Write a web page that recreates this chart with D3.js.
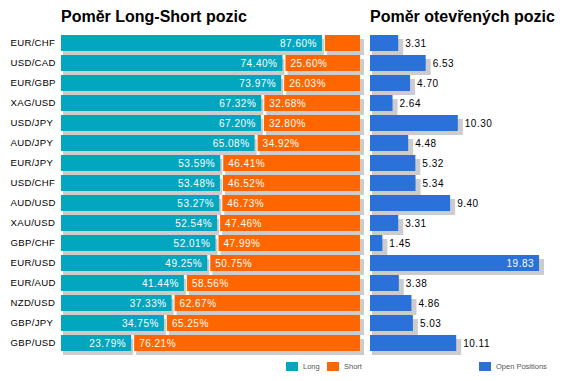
<!DOCTYPE html>
<html><head><meta charset="utf-8">
<script src="https://cdn.jsdelivr.net/npm/d3@7"></script>
<style>
body{margin:0;background:#fff;}
svg{display:block;font-family:"Liberation Sans",Arial,sans-serif;}
</style></head>
<body>
<svg id="c" width="567" height="381"></svg>
<script>
const pairs = ["EUR/CHF","USD/CAD","EUR/GBP","XAG/USD","USD/JPY","AUD/JPY","EUR/JPY","USD/CHF","AUD/USD","XAU/USD","GBP/CHF","EUR/USD","EUR/AUD","NZD/USD","GBP/JPY","GBP/USD"];
const longPct = [87.60,74.40,73.97,67.32,67.20,65.08,53.59,53.48,53.27,52.54,52.01,49.25,41.44,37.33,34.75,23.79];
const shortPct = [12.40,25.60,26.03,32.68,32.80,34.92,46.41,46.52,46.73,47.46,47.99,50.75,58.56,62.67,65.25,76.21];
const openPos = [3.31,6.53,4.70,2.64,10.30,4.48,5.32,5.34,9.40,3.31,1.45,19.83,3.38,4.86,5.03,10.11];
const titles = ["Poměr Long-Short pozic","Poměr otevřených pozic"];
const legendLabels = ["Long","Short","Open Positions"];

const colLong = "#02A7BF", colShort = "#FF6600", colOpen = "#2A71D9", colShadow = "#CCCCCC";

const svg = d3.select("#c");
const y = d3.scaleBand().domain(pairs).range([33, 353]).paddingInner(0.2).paddingOuter(0.1);
const x = d3.scaleLinear().domain([0,100]).range([61,360]);
const x2 = d3.scaleLinear().domain([0,20]).range([370,540.5]);
const rows = pairs.map((p,i)=>({p, l:longPct[i], s:shortPct[i], o:openPos[i]}));
const bh = y.bandwidth();

// titles
svg.append("text").attr("x",61).attr("y",22).attr("font-size",16).attr("font-weight","bold").attr("fill","#000").text(titles[0]);
svg.append("text").attr("x",370).attr("y",22).attr("font-size",16).attr("font-weight","bold").attr("fill","#000").text(titles[1]);

// category labels
svg.append("g").selectAll("text").data(rows).join("text")
  .attr("x",10.5).attr("y",d=>y(d.p)+bh/2).attr("dy","0.35em")
  .attr("font-size",9.6).attr("letter-spacing",0.3).attr("fill","#000").text(d=>d.p);

// shadows
const sh = svg.append("g").attr("fill",colShadow);
sh.selectAll(".sl").data(rows).join("rect")
  .attr("x",x(0)+2).attr("y",d=>y(d.p)+4).attr("width",d=>x(d.l)-x(0)-1).attr("height",bh);
sh.selectAll(".ss").data(rows).join("rect")
  .attr("x",d=>x(d.l)+4).attr("y",d=>y(d.p)+4).attr("width",d=>x(100)-x(d.l)).attr("height",bh);
sh.selectAll(".so").data(rows).join("rect")
  .attr("x",x2(0)+2).attr("y",d=>y(d.p)+4).attr("width",d=>x2(d.o)-x2(0)+3).attr("height",bh);

// bars
svg.append("g").selectAll("rect").data(rows).join("rect").attr("fill",colLong)
  .attr("x",x(0)).attr("y",d=>y(d.p)).attr("width",d=>x(d.l)-x(0)-1).attr("height",bh);
svg.append("g").selectAll("rect").data(rows).join("rect").attr("fill",colShort)
  .attr("x",d=>x(d.l)+2).attr("y",d=>y(d.p)).attr("width",d=>x(100)-x(d.l)-2).attr("height",bh);
svg.append("g").selectAll("rect").data(rows).join("rect").attr("fill",colOpen)
  .attr("x",x2(0)).attr("y",d=>y(d.p)).attr("width",d=>x2(d.o)-x2(0)).attr("height",bh);

// value labels
const vl = svg.append("g").attr("font-size",10).attr("letter-spacing",0.5);
vl.selectAll(".lt").data(rows).join("text").attr("fill","#fff").attr("text-anchor","end")
  .attr("x",d=>x(d.l)-6).attr("y",d=>y(d.p)+bh/2).attr("dy","0.35em").text(d=>d.l.toFixed(2)+"%");
vl.selectAll(".st").data(rows.filter(d=>d.s>20)).join("text").attr("fill","#fff")
  .attr("x",d=>x(d.l)+7).attr("y",d=>y(d.p)+bh/2).attr("dy","0.35em").text(d=>d.s.toFixed(2)+"%");
vl.selectAll(".ot").data(rows).join("text")
  .attr("fill",d=>d.o>15?"#fff":"#000").attr("text-anchor",d=>d.o>15?"end":"start")
  .attr("x",d=>d.o>15? x2(d.o)-5 : x2(d.o)+7).attr("y",d=>y(d.p)+bh/2).attr("dy","0.35em").text(d=>d.o.toFixed(2));

// legend
const leg = [{t:legendLabels[0],c:colLong,x:286},{t:legendLabels[1],c:colShort,x:327},{t:legendLabels[2],c:colOpen,x:479}];
const lg = svg.append("g");
lg.selectAll("rect").data(leg).join("rect").attr("x",d=>d.x).attr("y",362).attr("width",12).attr("height",9).attr("fill",d=>d.c);
lg.selectAll("text").data(leg).join("text").attr("x",d=>d.x+17).attr("y",366.5).attr("dy","0.35em")
  .attr("font-size",7.5).attr("fill","#555").text(d=>d.t);
</script>
</body></html>
